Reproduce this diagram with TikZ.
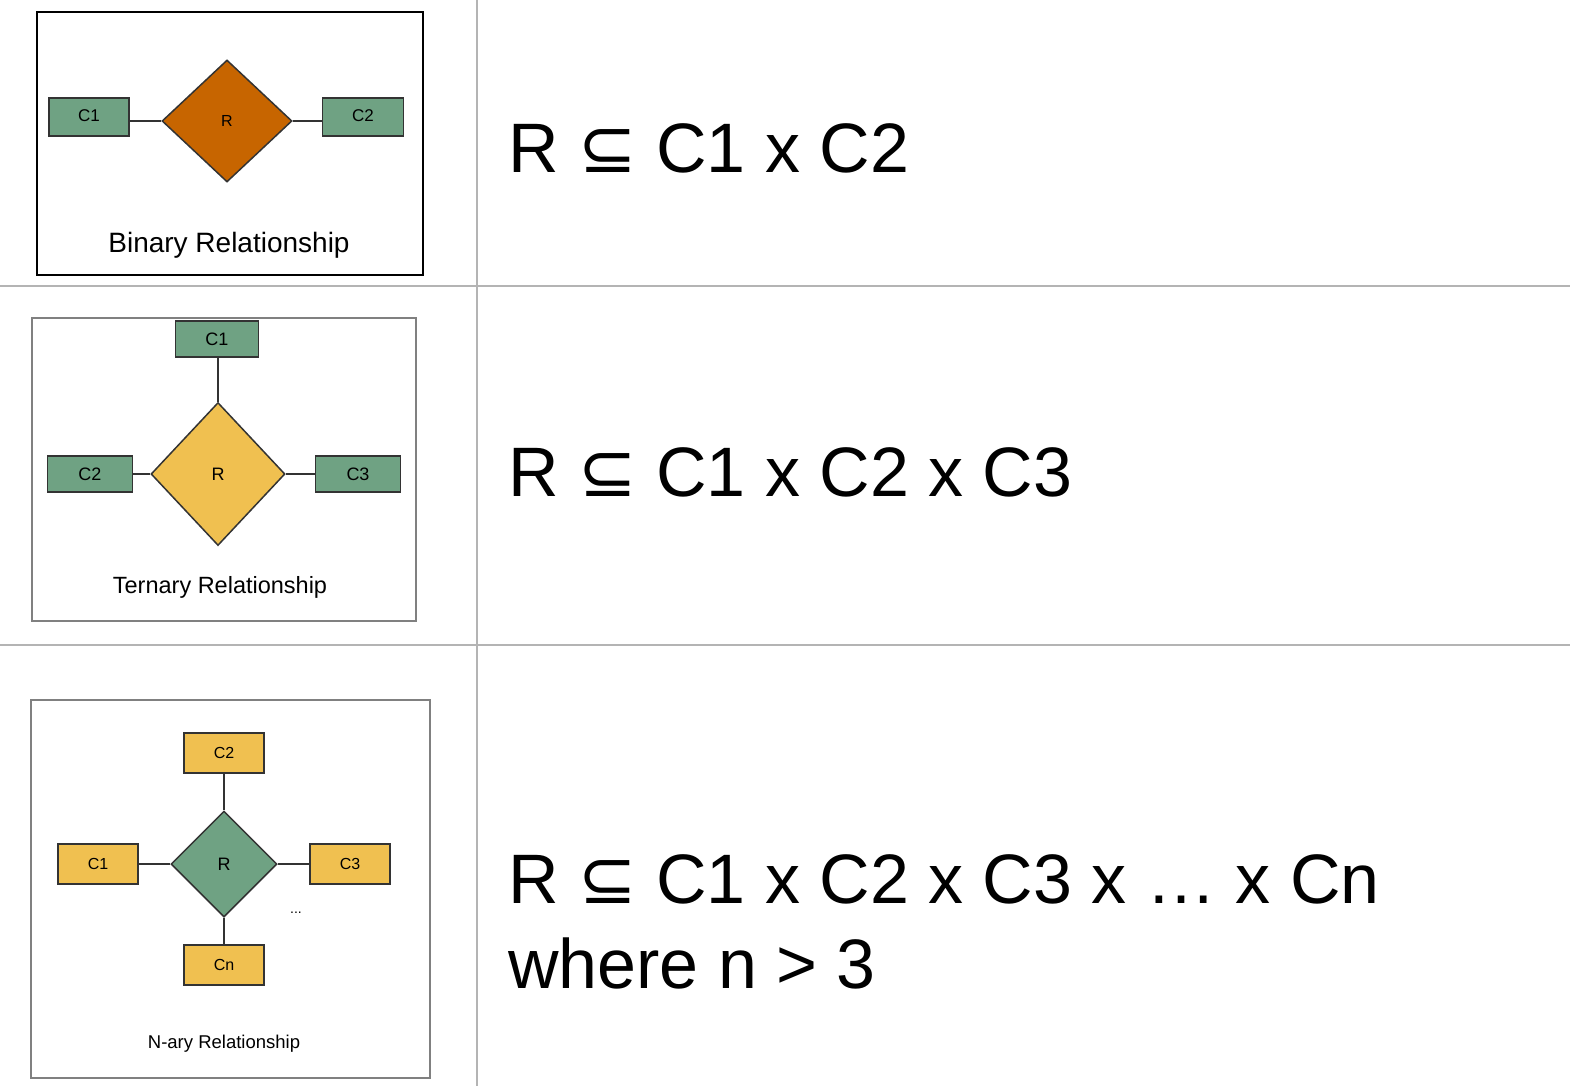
\documentclass[tikz,border=0pt]{standalone}
\usepackage{fontspec}
\setmainfont{Liberation Sans}
\newfontfamily\symfont{DejaVu Sans}
\usetikzlibrary{shapes.geometric}

\definecolor{entgreen}{HTML}{6FA283}
\definecolor{relorange}{HTML}{C76500}
\definecolor{relyellow}{HTML}{F0C050}
\definecolor{gridgray}{HTML}{B4B4B4}
\definecolor{edgedark}{HTML}{333333}

\tikzset{
  entity/.style={draw=edgedark, line width=1.5pt, rectangle, inner sep=0pt},
  relation/.style={draw=edgedark, line width=1.5pt, diamond, inner sep=0pt},
  link/.style={draw=edgedark, line width=1.5pt},
  formula/.style={anchor=base west, font=\fontsize{70}{80}\selectfont, inner sep=0pt}
}

\begin{document}
\begin{tikzpicture}[x=1pt, y=-1pt]
\useasboundingbox (0,0) rectangle (1570,1086);

% table grid
\draw[gridgray, line width=2pt] (477,0) -- (477,1086);
\draw[gridgray, line width=2pt] (0,286) -- (1570,286);
\draw[gridgray, line width=2pt] (0,645) -- (1570,645);

% binary
\draw[black, line width=2pt] (37,12) rectangle (423,275);
\node (bc1)[entity, fill=entgreen, minimum width=80pt, minimum height=38pt] at (89,117) {\fontsize{17}{20}\selectfont\raisebox{2pt}{C1}};
\node (br)[relation, fill=relorange, minimum width=130pt, minimum height=122pt] at (227,121) {\fontsize{16}{20}\selectfont R};
\node (bc2)[entity, fill=entgreen, minimum width=81pt, minimum height=38pt] at (363,117) {\fontsize{17}{20}\selectfont\raisebox{2pt}{C2}};
\draw[link] (br.west -| bc1.east) -- (br.west);
\draw[link] (br.east) -- (br.east -| bc2.west);
\node (bcap) at (229,245) {\fontsize{28}{32}\selectfont Binary Relationship};

% ternary
\draw[gray, line width=1.5pt] (32,318) rectangle (416,621);
\node (tc1)[entity, fill=entgreen, minimum width=83pt, minimum height=36pt] at (217,339) {\fontsize{18}{20}\selectfont C1};
\node (tr)[relation, fill=relyellow, minimum width=134pt, minimum height=143pt] at (218,474) {\fontsize{18}{20}\selectfont R};
\node (tc2)[entity, fill=entgreen, minimum width=85pt, minimum height=36pt] at (90,474) {\fontsize{18}{20}\selectfont C2};
\node (tc3)[entity, fill=entgreen, minimum width=85pt, minimum height=36pt] at (358,474) {\fontsize{18}{20}\selectfont C3};
\draw[link] (tr.north |- tc1.south) -- (tr.north);
\draw[link] (tc2) -- (tr);
\draw[link] (tr) -- (tc3);
\node (tcap) at (220,587) {\fontsize{23.5}{28}\selectfont Ternary Relationship};

% n-ary
\draw[gray, line width=1.5pt] (31,700) rectangle (430,1078);
\node (nc2)[entity, fill=relyellow, minimum width=80pt, minimum height=40pt] at (224,753) {\fontsize{16}{20}\selectfont C2};
\node (nr)[relation, fill=entgreen, minimum width=106pt, minimum height=106pt] at (224,864) {\fontsize{18}{20}\selectfont R};
\node (nc1)[entity, fill=relyellow, minimum width=80pt, minimum height=40pt] at (98,864) {\fontsize{16}{20}\selectfont C1};
\node (nc3)[entity, fill=relyellow, minimum width=80pt, minimum height=40pt] at (350,864) {\fontsize{16}{20}\selectfont C3};
\node (ncn)[entity, fill=relyellow, minimum width=80pt, minimum height=40pt] at (224,965) {\fontsize{16}{20}\selectfont Cn};
\node (ndots) at (296,913) {\fontsize{14}{16}\selectfont ...};
\draw[link] (nc2) -- (nr);
\draw[link] (nc1) -- (nr);
\draw[link] (nr) -- (nc3);
\draw[link] (nr) -- (ncn);
\node (ncap) at (224,1044) {\fontsize{18.5}{22}\selectfont N-ary Relationship};

% formulas
\node (beq)[formula] at (508,172) {R {\symfont ⊆} C1 x C2};
\node (teq)[formula] at (508,496) {R {\symfont ⊆} C1 x C2 x C3};
\node (neq)[formula] at (508,903) {R {\symfont ⊆} C1 x C2 x C3 x … x Cn};
\node (ncond)[formula] at (508,988) {where n > 3};

\end{tikzpicture}
\end{document}
